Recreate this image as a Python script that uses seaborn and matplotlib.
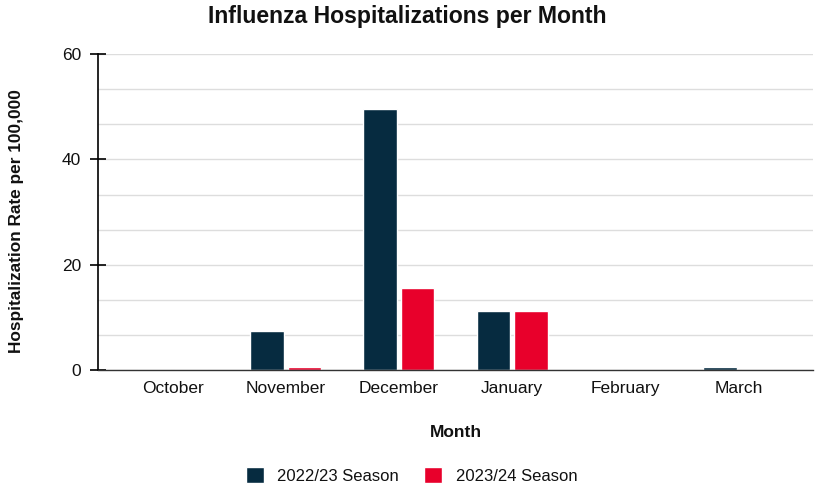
import seaborn as sns
import matplotlib.pyplot as plt
import numpy as np
import pandas as pd
from matplotlib.patches import Patch

months = ['October', 'November', 'December', 'January', 'February', 'March']
season_2223 = [0, 7.4, 49.5, 11.2, 0, 0.5]
season_2324 = [0, 0.5, 15.6, 11.2, 0, 0]
seasons = ['2022/23 Season', '2023/24 Season']
colors = ['#062b40', '#e8002b']

df = pd.DataFrame({
    'Month': months * 2,
    'Rate': season_2223 + season_2324,
    'Season': [seasons[0]] * len(months) + [seasons[1]] * len(months),
})

sns.set_style('white')
plt.rcParams['font.family'] = ['Liberation Sans', 'DejaVu Sans']
plt.rcParams['text.color'] = '#111111'
plt.rcParams['axes.labelcolor'] = '#111111'
plt.rcParams['xtick.color'] = '#111111'
plt.rcParams['ytick.color'] = '#111111'

fig = plt.figure(figsize=(8.15, 4.84), dpi=100)
ax = fig.add_axes([0.120, 0.2355, 0.878, 0.6525])

sns.barplot(data=df, x='Month', y='Rate', hue='Season', palette=colors,
            width=0.66, gap=0.1, saturation=1, ax=ax, legend=False)

ax.set_xlim(-0.66, 5.66)
ax.set_ylim(0, 60)
ax.set_yticks([0, 20, 40, 60])
ax.set_yticks(np.arange(0, 61, 20 / 3), minor=True)
ax.grid(True, axis='y', which='both', color='#dddddd', linewidth=1)
ax.set_axisbelow(True)
ax.tick_params(axis='y', which='major', direction='inout', length=12, width=1.2,
               color='black', labelsize=12.5, pad=6, left=True)
ax.tick_params(axis='y', which='minor', length=0)
ax.tick_params(axis='x', length=0, labelsize=12.5, pad=8)

for s in ['top', 'right']:
    ax.spines[s].set_visible(False)
ax.spines['left'].set_color('black')
ax.spines['left'].set_linewidth(1.2)
ax.spines['bottom'].set_color('#333333')
ax.spines['bottom'].set_linewidth(1)

ax.set_xlabel('Month', fontsize=12.5, fontweight='bold', labelpad=21)
ax.set_ylabel('Hospitalization Rate per 100,000', fontsize=12.4, fontweight='bold')
ax.yaxis.set_label_coords(-0.1025, 0.4715)
fig.suptitle('Influenza Hospitalizations per Month', fontsize=16.6, fontweight='bold', y=0.99)

handles = [Patch(facecolor=c, label=l) for c, l in zip(colors, seasons)]
fig.legend(handles=handles, loc='lower center', bbox_to_anchor=(0.505, -0.03), ncol=2,
           frameon=False, fontsize=12, handlelength=1.1, handleheight=1.1,
           columnspacing=1.5, handletextpad=0.8)

fig.savefig('out.png', dpi=100)
